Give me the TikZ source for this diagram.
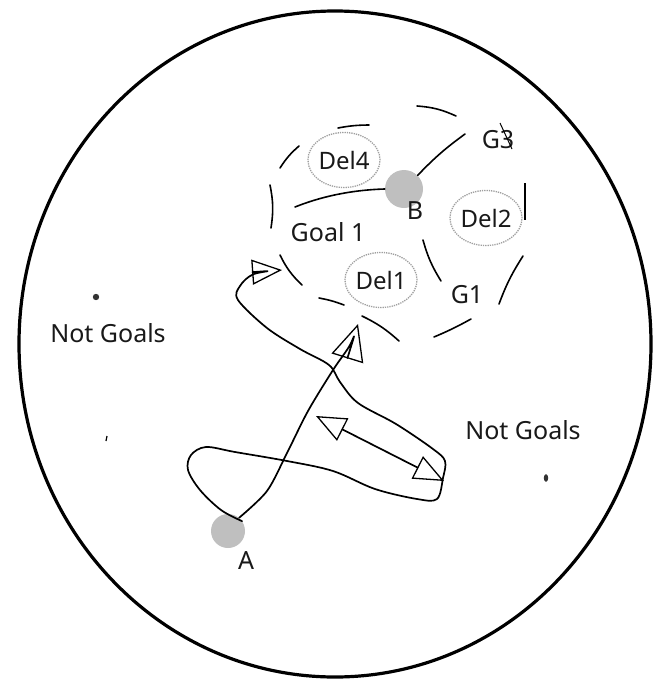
\documentclass[tikz,border=0pt]{standalone}
\usepackage{fontspec}
\setmainfont{Noto Sans}
\usetikzlibrary{arrows.meta,shapes.geometric}
\begin{document}
\begin{tikzpicture}[x=1pt,y=-1pt,
  txt/.style={font=\fontsize{25}{28}\selectfont, text=black!90, inner sep=0pt},
  delbox/.style={ellipse, draw=gray!75, densely dotted, line width=1.3pt, minimum width=66pt, minimum height=55pt, inner sep=0pt, font=\fontsize{24}{28}\selectfont, text=black!90},
  blob/.style={circle, fill=gray!50, minimum size=34pt, inner sep=0pt},
  bound/.style={line width=1.6pt, line cap=round},
  hand/.style={line width=1.7pt, line join=round, line cap=round},
  head/.tip={Triangle[open, length=30pt, width=25pt, line width=1.3pt]},
  bighead/.tip={Triangle[open, length=36pt, width=33pt, line width=1.3pt]}
]
\useasboundingbox (0,0) rectangle (653,683);
% outer boundary
\draw[line width=3.2pt] (335,344) ellipse [x radius=316, y radius=333];

% labels "Not Goals"
\node[txt] (ng1) at (108,333) {Not Goals};
\node[txt] (ng2) at (523,430) {Not Goals};
\fill[black!80] (96,297) circle (3.2);
\fill[black!80] (546,478) ellipse [x radius=2.2, y radius=3.8];
\draw[line width=1.2pt] (106,441) -- (107,436);

% start and goal points
\node[blob] (A) at (228,531) {};
\node[txt] (Alab) at (246,561) {A};
\node[blob, minimum size=38pt] (B) at (404,189) {};
\node[txt] (Blab) at (415,211) {B};

% delegates
\node[delbox] (del4) at (344,160) {Del4};
\node[delbox] (del2) at (486,218) {Del2};
\node[delbox] (del1) at (381,280) {Del1};
\node[txt] (goal1) at (328,232) {Goal 1};
\node[txt] (g1) at (467,295) {G1};
\node[txt] (g3) at (498,140) {G3};
\draw[line width=1pt] (500,123) -- (512,149);
\draw[line width=1.6pt] (525,183) -- (525,220);

% goal region boundary strokes
\draw[bound] (417,106) to[bend left=10] (456,116);
\draw[bound] (338,128) to[bend left=5] (369,125);
\draw[bound] (280,168) to[bend left=8] (299,146);
\draw[bound] (270,185) to[bend left=10] (271,228);
\draw[bound] (280,255) to[bend right=10] (302,285);
\draw[bound] (319,298) to[bend left=5] (344,305);
\draw[bound] (362,316) to[bend left=8] (399,341);
\draw[bound] (434,337) to[bend right=3] (471,319);
\draw[bound] (499,304) to[bend left=6] (523,256);
% lines attached to B
\draw[bound] (B.north east) to[bend left=5] (465,134);
\draw[bound] (295,207) .. controls (320,197) and (350,190) .. (B.west);
\draw[bound] (423,240) to[bend right=8] (441,281);

% paths
\coordinate (t1) at (282,270);
\coordinate (t2) at (358,324);
\coordinate (d1) at (316,416);
\coordinate (d2) at (444,481);
\draw[hand, -head] plot[smooth, tension=0.55] coordinates {
  (A.35) (221,510) (200,490) (188,470) (191,455) (206,447) (235,452) (287,461)
  (333,471) (375,489) (417,499) (437,499) (443,478) (445,461) (433,449)
  (396,424) (358,403) (340,382) (329,365) (300,349) (267,328) (238,300)
  (240,286) (254,274) (t1)};
\draw[hand, -bighead] plot[smooth, tension=0.5] coordinates {
  (A.50) (267,491) (287,453) (308,411) (333,370) (350,345) (t2)};
\draw[hand, head-head] (d1) -- (d2);
\end{tikzpicture}
\end{document}
